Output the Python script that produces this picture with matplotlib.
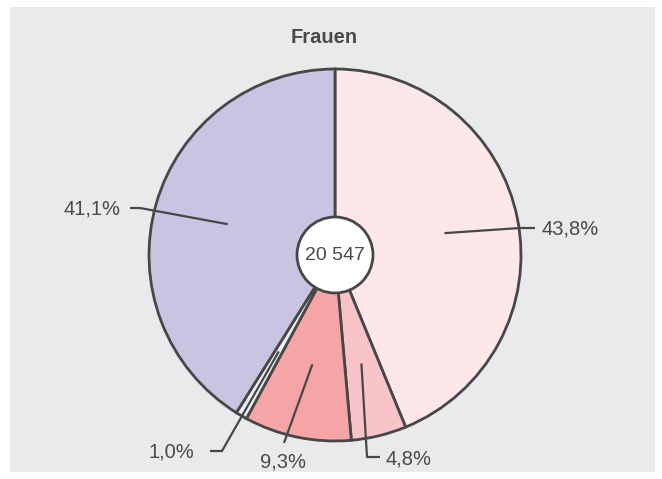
import numpy as np
import matplotlib.pyplot as plt
from matplotlib.patches import Circle, Rectangle

plt.rcParams['font.family'] = ['Liberation Sans', 'DejaVu Sans']

title = "Frauen"
total_label = "20 547"
shares = [43.8, 4.8, 9.3, 1.0, 41.1]
labels = ["43,8%", "4,8%", "9,3%", "1,0%", "41,1%"]
colors = ["#fde7e9", "#f9c4c7", "#f6a5a7", "#efeff6", "#c8c5e2"]

# layout in pixel space (y measured from top)
W, H = 662, 479
cx, cy, R = 335, 255, 186
anchor_ang = [11.3, None, None, None, None]   # None -> wedge middle
elbows = [(520, 228), (367, 457), None, (222, 451), (140, 208)]
ends = [(535, 228), (380, 457), (284, 443), (210, 451), (130, 208)]
text_pos = [(541, 229, "left"), (385, 459, "left"), (283, 462, "center"),
            (194, 452, "right"), (121, 209, "right")]

edge = "#474747"
txt = "#4a4a4a"

fig = plt.figure(figsize=(W / 100, H / 100), dpi=100)
ax = fig.add_axes([0, 0, 1, 1])


def py(y):
    return H - y


ax.add_patch(Rectangle((10, py(472)), 645, 465, facecolor="#e9eaec",
                       edgecolor="none", zorder=0))

wedges, _ = ax.pie(shares, colors=colors, startangle=90, counterclock=False,
                   center=(cx, py(cy)), radius=R,
                   wedgeprops=dict(edgecolor=edge, linewidth=2))
for w in wedges:
    w.set_zorder(2)

ax.set_xlim(0, W)
ax.set_ylim(0, H)
ax.set_aspect("equal")
ax.axis("off")

ax.add_patch(Circle((cx, py(cy)), 38, facecolor="white", edgecolor=edge,
                    linewidth=2, zorder=4))
ax.text(cx, py(cy), total_label, ha="center", va="center", fontsize=14,
        color=txt, zorder=5)

for i, w in enumerate(wedges):
    ang = anchor_ang[i]
    if ang is None:
        ang = (w.theta1 + w.theta2) / 2
    a = np.deg2rad(ang)
    x0 = cx + 0.6 * R * np.cos(a)
    y0 = py(cy) + 0.6 * R * np.sin(a)
    pts = [(x0, y0)]
    if elbows[i] is not None:
        pts.append((elbows[i][0], py(elbows[i][1])))
    pts.append((ends[i][0], py(ends[i][1])))
    xs, ys = zip(*pts)
    ax.plot(xs, ys, color=edge, linewidth=1.6, zorder=6,
            solid_capstyle="butt")
    tx, ty, ha = text_pos[i]
    ax.text(tx, py(ty), labels[i], ha=ha, va="center", fontsize=14.5,
            color=txt, zorder=6)

ax.text(324, py(37), title, ha="center", va="center", fontsize=14.5,
        fontweight="bold", color=txt)

fig.savefig("out.png", dpi=100)
